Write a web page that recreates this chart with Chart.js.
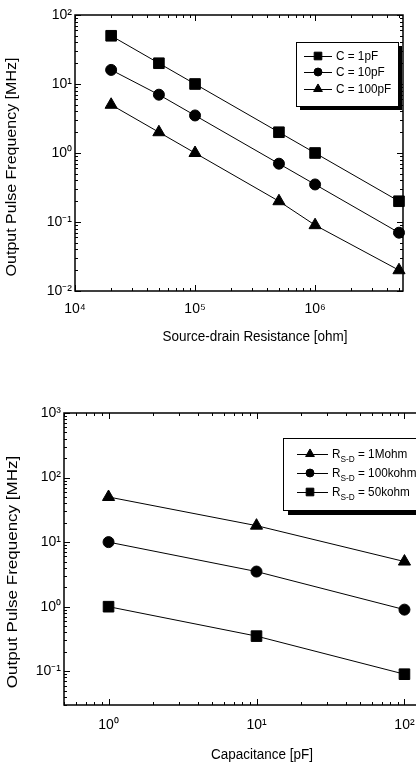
<!DOCTYPE html>
<html lang="en">
<head>
    <meta charset="UTF-8">
    <title>Output Pulse Frequency</title>
    <script src="https://cdn.jsdelivr.net/npm/chart.js"></script>
    <style>
        html, body { margin: 0; padding: 0; background: #fff; overflow: hidden; }
        .page { position: relative; width: 416px; height: 766px; overflow: hidden; }
        #resChart { position: absolute; left: 0; top: 0; }
        #capChart { position: absolute; left: 0; top: 380px; }
    </style>
</head>
<body>
    <div class="page">
        <canvas id="resChart" width="416" height="350"></canvas>
        <canvas id="capChart" width="460" height="386"></canvas>
    </div>
    <script>
        // top chart: frequency vs source-drain resistance
        const resistance = [2e4, 5e4, 1e5, 5e5, 1e6, 5e6];
        const freqC1pF = [50, 20, 10, 2, 1, 0.2];
        const freqC10pF = [16, 7, 3.5, 0.7, 0.35, 0.07];
        const freqC100pF = [5, 2, 1, 0.2, 0.09, 0.02];
        const resLabels = ['C = 1pF', 'C = 10pF', 'C = 100pF'];

        // bottom chart: frequency vs capacitance
        const capacitance = [1, 10, 100];
        const freqR1M = [50, 18, 5];
        const freqR100k = [10, 3.5, 0.9];
        const freqR50k = [1, 0.35, 0.09];
        const capNames = ['1Mohm', '100kohm', '50kohm'];

        // decade tick values and their labels
        const resXTicks = [1e4, 1e5, 1e6];
        const resXTickLabels = ['10\u2074', '10\u2075', '10\u2076'];
        const resYTicks = [0.01, 0.1, 1, 10, 100];
        const resYTickLabels = ['10\u207B\u00B2', '10\u207B\u00B9', '10\u2070', '10\u00B9', '10\u00B2'];
        const capXTicks = [1, 10, 100];
        const capXTickLabels = ['10\u2070', '10\u00B9', '10\u00B2'];
        const capYTicks = [0.1, 1, 10, 100, 1000];
        const capYTickLabels = ['10\u207B\u00B9', '10\u2070', '10\u00B9', '10\u00B2', '10\u00B3'];

        const TEXT_FONT = "'Liberation Sans', Arial, sans-serif";
        const TICK_FONT = "'Liberation Sans Narrow', 'Liberation Sans', Arial, sans-serif";
        const SQUISH = 0.87;

        const pts = (xs, ys) => xs.map((x, i) => ({ x: x, y: ys[i] }));
        const radiusFor = { rect: 7.5, circle: 5.5, triangle: 7 };

        function series(label, xs, ys, style) {
            return {
                label: label,
                data: pts(xs, ys),
                pointStyle: style,
                pointRadius: radiusFor[style],
                pointBackgroundColor: '#000',
                pointBorderColor: '#000',
                pointBorderWidth: 1,
                borderColor: '#000',
                borderWidth: 1,
                showLine: true,
                clip: false
            };
        }

        function decadeMarks(min, max) {
            const out = [];
            for (let e = Math.floor(Math.log10(min)); e <= Math.ceil(Math.log10(max)); e++) {
                for (let k = 1; k <= 9; k++) {
                    const v = k * Math.pow(10, e);
                    if (v >= min * 0.999 && v <= max * 1.001) out.push({ v: v, major: k === 1 });
                }
            }
            return out;
        }

        function squishText(ctx, text, x, y, font, rotate) {
            ctx.save();
            ctx.translate(x, y);
            if (rotate) {
                ctx.rotate(-Math.PI / 2);
                ctx.scale(1, SQUISH);
            } else {
                ctx.scale(SQUISH, 1);
            }
            ctx.font = font;
            ctx.fillStyle = '#000';
            ctx.textAlign = 'center';
            ctx.textBaseline = 'middle';
            ctx.fillText(text, 0, 0);
            ctx.restore();
        }

        // frame with inward ticks on all four sides, plus axis titles
        const framePlugin = {
            id: 'frame',
            afterDraw(chart, args, opts) {
                const { ctx, chartArea: a, scales } = chart;
                const x = scales.x, y = scales.y;
                ctx.save();
                ctx.strokeStyle = '#000';
                ctx.lineWidth = 1.5;
                ctx.strokeRect(a.left, a.top, a.right - a.left, a.bottom - a.top);
                ctx.lineWidth = 1;
                ctx.beginPath();
                decadeMarks(x.min, x.max).forEach(m => {
                    const px = Math.round(x.getPixelForValue(m.v)) + 0.5;
                    const len = m.major ? 6 : 3;
                    ctx.moveTo(px, a.bottom); ctx.lineTo(px, a.bottom - len);
                    ctx.moveTo(px, a.top); ctx.lineTo(px, a.top + len);
                });
                decadeMarks(y.min, y.max).forEach(m => {
                    const py = Math.round(y.getPixelForValue(m.v)) + 0.5;
                    const len = m.major ? 6 : 3;
                    ctx.moveTo(a.left, py); ctx.lineTo(a.left + len, py);
                    ctx.moveTo(a.right, py); ctx.lineTo(a.right - len, py);
                });
                ctx.stroke();
                ctx.restore();

                const t = opts.titles;
                squishText(ctx, t.x.text, t.x.at[0], t.x.at[1], t.x.size + 'px ' + TEXT_FONT, false);
                squishText(ctx, t.y.text, t.y.at[0], t.y.at[1], t.y.size + 'px ' + TEXT_FONT, true);
            }
        };

        // boxed legend with drop shadow
        const boxLegend = {
            id: 'boxLegend',
            afterDraw(chart, args, opts) {
                const ctx = chart.ctx;
                const [bx, by, bw, bh] = opts.box;
                ctx.save();
                ctx.fillStyle = '#000';
                ctx.fillRect(bx + opts.shadow, by + opts.shadow, bw, bh);
                ctx.fillStyle = '#fff';
                ctx.fillRect(bx, by, bw, bh);
                ctx.strokeStyle = '#000';
                ctx.lineWidth = 1;
                ctx.strokeRect(bx + 0.5, by + 0.5, bw, bh);

                chart.data.datasets.forEach((ds, i) => {
                    const ry = opts.rows[i];
                    ctx.strokeStyle = '#000';
                    ctx.lineWidth = 1;
                    ctx.beginPath();
                    ctx.moveTo(opts.lineX[0], ry + 0.5);
                    ctx.lineTo(opts.lineX[1], ry + 0.5);
                    ctx.stroke();
                    ctx.fillStyle = '#000';
                    Chart.helpers.drawPoint(ctx, {
                        pointStyle: ds.pointStyle,
                        radius: ds.pointRadius * 0.72,
                        rotation: 0,
                        borderWidth: 1
                    }, opts.markerX, ry);

                    ctx.save();
                    ctx.translate(opts.textX, ry);
                    ctx.scale(SQUISH, 1);
                    ctx.fillStyle = '#000';
                    ctx.textBaseline = 'middle';
                    ctx.textAlign = 'left';
                    ctx.font = opts.size + 'px ' + TEXT_FONT;
                    if (opts.names) {
                        ctx.fillText('R', 0, 0);
                        let w = ctx.measureText('R').width;
                        ctx.font = (opts.size - 4) + 'px ' + TEXT_FONT;
                        ctx.fillText('S-D', w, 5);
                        w += ctx.measureText('S-D').width;
                        ctx.font = opts.size + 'px ' + TEXT_FONT;
                        ctx.fillText(' = ' + opts.names[i], w, 0);
                    } else {
                        ctx.fillText(ds.label, 0, 0);
                    }
                    ctx.restore();
                });
                ctx.restore();
            }
        };

        function logAxis(min, max, ticks, labels, pad, fit) {
            return {
                type: 'logarithmic',
                min: min,
                max: max,
                grid: { display: false, drawTicks: false },
                border: { display: false },
                afterBuildTicks: s => { s.ticks = ticks.map(v => ({ value: v })); },
                afterFit: fit,
                ticks: {
                    autoSkip: false,
                    maxRotation: 0,
                    padding: pad,
                    color: '#000',
                    font: { family: TICK_FONT, size: 14 },
                    callback: (v, i) => labels[i]
                }
            };
        }

        Chart.defaults.animation = false;

        new Chart(document.getElementById('resChart'), {
            type: 'line',
            data: {
                datasets: [
                    series(resLabels[0], resistance, freqC1pF, 'rect'),
                    series(resLabels[1], resistance, freqC10pF, 'circle'),
                    series(resLabels[2], resistance, freqC100pF, 'triangle')
                ]
            },
            options: {
                responsive: false,
                layout: { padding: { top: 15, right: 13, left: 0, bottom: 0 } },
                scales: {
                    x: logAxis(1e4, 5.4e6, resXTicks, resXTickLabels, 10, s => { s.height = 59; }),
                    y: logAxis(0.01, 100, resYTicks, resYTickLabels, 3, s => { s.width = 75; })
                },
                plugins: {
                    legend: { display: false },
                    tooltip: { enabled: false },
                    frame: {
                        titles: {
                            x: { text: 'Source-drain Resistance [ohm]', at: [255, 337], size: 15.5 },
                            y: { text: 'Output Pulse Frequency [MHz]', at: [12, 167], size: 16 }
                        }
                    },
                    boxLegend: {
                        box: [296, 42, 102, 64],
                        shadow: 4,
                        rows: [56, 72, 89],
                        lineX: [304, 332],
                        markerX: 318,
                        textX: 336,
                        size: 13.5
                    }
                }
            },
            plugins: [framePlugin, boxLegend]
        });

        new Chart(document.getElementById('capChart'), {
            type: 'line',
            data: {
                datasets: [
                    series('R S-D = ' + capNames[0], capacitance, freqR1M, 'triangle'),
                    series('R S-D = ' + capNames[1], capacitance, freqR100k, 'circle'),
                    series('R S-D = ' + capNames[2], capacitance, freqR50k, 'rect')
                ]
            },
            options: {
                responsive: false,
                layout: { padding: { top: 33, right: 11, left: 0, bottom: 0 } },
                scales: {
                    x: logAxis(0.5, 200, capXTicks, capXTickLabels, 12, s => { s.height = 61; }),
                    y: logAxis(0.03, 1000, capYTicks, capYTickLabels, 3, s => { s.width = 64; })
                },
                plugins: {
                    legend: { display: false },
                    tooltip: { enabled: false },
                    frame: {
                        titles: {
                            x: { text: 'Capacitance [pF]', at: [262, 375], size: 15.5 },
                            y: { text: 'Output Pulse Frequency [MHz]', at: [13, 192], size: 17 }
                        }
                    },
                    boxLegend: {
                        box: [283, 58, 170, 72],
                        shadow: 5,
                        rows: [74, 93, 112],
                        lineX: [297, 328],
                        markerX: 310,
                        textX: 332,
                        size: 13.5,
                        names: capNames
                    }
                }
            },
            plugins: [framePlugin, boxLegend]
        });
    </script>
</body>
</html>
